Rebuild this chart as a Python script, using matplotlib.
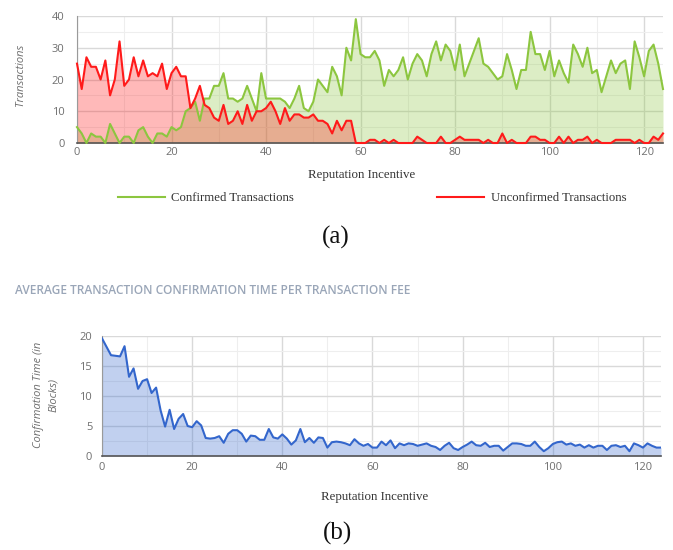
import numpy as np
import matplotlib
matplotlib.use("Agg")
import matplotlib.pyplot as plt

# === DATA ===
incentive = np.arange(125)

confirmed = [
    5, 3, 0, 3, 2, 2, 0, 6, 3, 0,
    2, 2, 0, 4, 5, 2, 0, 3, 3, 2,
    5, 4, 5, 10, 11, 13, 7, 14, 14, 18,
    18, 22, 14, 14, 13, 14, 18, 14, 10, 22,
    14, 14, 14, 14, 13, 11, 14, 18, 11, 10,
    13, 20, 18, 16, 24, 21, 15, 30, 26, 39,
    28, 27, 27, 29, 26, 18, 23, 21, 23, 27,
    20, 25, 28, 26, 21, 28, 32, 26, 31, 29,
    23, 31, 21, 25, 29, 33, 25, 24, 22, 20,
    21, 28, 23, 17, 23, 23, 35, 28, 28, 23,
    29, 21, 26, 22, 19, 31, 28, 24, 30, 22,
    23, 16, 21, 26, 22, 25, 26, 17, 32, 27,
    21, 29, 31, 25, 17,
]

unconfirmed = [
    25, 17, 27, 24, 24, 20, 26, 15, 20, 32,
    18, 20, 27, 21, 26, 21, 22, 21, 25, 17,
    22, 24, 21, 21, 11, 14, 18, 12, 11, 8,
    7, 12, 6, 7, 10, 6, 12, 7, 10, 10,
    11, 13, 10, 6, 11, 7, 9, 9, 8, 8,
    9, 7, 7, 6, 3, 7, 4, 7, 7, 0,
    0, 0, 1, 1, 0, 1, 0, 1, 0, 0,
    0, 0, 2, 1, 0, 0, 0, 2, 0, 0,
    1, 2, 1, 1, 1, 1, 0, 1, 0, 0,
    3, 0, 1, 0, 0, 0, 2, 2, 1, 1,
    0, 0, 2, 0, 2, 0, 1, 1, 2, 0,
    1, 0, 0, 0, 1, 1, 1, 1, 0, 1,
    0, 0, 2, 1, 3,
]

confirm_time = [
    19.6, 18.2, 16.8, 16.7, 16.6, 18.3, 13.2, 14.6, 11.2, 12.5,
    12.8, 10.5, 11.4, 7.6, 4.9, 7.7, 4.5, 6.2, 7.0, 5.0,
    4.8, 5.8, 5.1, 3.0, 2.9, 3.0, 3.3, 2.2, 3.7, 4.3,
    4.3, 3.7, 2.4, 3.4, 3.3, 2.7, 2.7, 4.5, 3.1, 2.9,
    3.6, 2.9, 1.9, 2.6, 4.5, 2.3, 3.0, 2.2, 3.1, 3.0,
    1.4, 2.3, 2.4, 2.3, 2.1, 1.8, 2.8, 2.1, 1.7, 2.0,
    1.4, 1.4, 2.4, 1.8, 2.6, 1.3, 2.1, 1.8, 2.1, 2.0,
    1.7, 1.9, 2.1, 1.7, 1.5, 1.0, 1.7, 2.2, 1.3, 1.0,
    1.5, 1.9, 2.4, 1.8, 1.7, 2.2, 1.5, 1.7, 1.7, 0.9,
    1.5, 2.1, 2.1, 2.0, 1.7, 1.7, 2.4, 1.5, 0.8, 1.3,
    2.0, 2.3, 2.4, 1.9, 2.1, 1.7, 1.9, 1.4, 1.8, 1.4,
    1.7, 1.7, 1.0, 1.7, 1.8, 1.5, 1.7, 0.8, 2.1, 1.8,
    1.4, 2.1, 1.7, 1.4, 1.4,
]

GREEN = "#8cc63f"
RED = "#ff1a1a"
BLUE = "#3366cc"
TICK_COLOR = "#6f6f6f"
SANS = ["Open Sans", "DejaVu Sans"]
SERIF = ["Liberation Serif", "DejaVu Serif"]

W, H = 673, 550
fig = plt.figure(figsize=(W / 100, H / 100), dpi=100)


def px_axes(left, top, right, bottom):
    return fig.add_axes([left / W, 1 - bottom / H, (right - left) / W, (bottom - top) / H])


def style_axes(ax, ymax, ystep, xpad, ypad):
    ax.set_xlim(0, 124)
    ax.set_ylim(0, ymax)
    ax.set_xticks(range(0, 121, 20))
    ax.set_xticks(range(10, 125, 20), minor=True)
    ax.set_yticks(np.arange(0, ymax + 0.1, ystep))
    ax.set_yticks(np.arange(ystep / 2, ymax, ystep), minor=True)
    ax.grid(which="major", color="#d9d9d9", linewidth=1.0)
    ax.grid(which="minor", color="#eeeeee", linewidth=0.8)
    ax.set_axisbelow(True)
    ax.tick_params(which="both", length=0, colors=TICK_COLOR, labelsize=8)
    ax.tick_params(axis="x", pad=xpad)
    ax.tick_params(axis="y", pad=ypad)
    for lab in ax.get_xticklabels() + ax.get_yticklabels():
        lab.set_family(SANS)
    for side in ("top", "right"):
        ax.spines[side].set_visible(False)
    ax.spines["left"].set_color("#9a9a9a")
    ax.spines["bottom"].set_color("#555555")
    ax.spines["bottom"].set_linewidth(1.2)


# --- (a) confirmed vs unconfirmed transactions ---
ax1 = px_axes(77, 16, 663, 143)
ax1.fill_between(incentive, confirmed, color=GREEN, alpha=0.3, linewidth=0)
ax1.fill_between(incentive, unconfirmed, color=RED, alpha=0.3, linewidth=0)
l_conf, = ax1.plot(incentive, confirmed, color=GREEN, linewidth=1.5,
                   label="Confirmed Transactions", zorder=3, clip_on=False)
l_unconf, = ax1.plot(incentive, unconfirmed, color=RED, linewidth=1.5,
                     label="Unconfirmed Transactions", zorder=3, clip_on=False)
style_axes(ax1, 40, 10, 3, 9)

fig.text(20 / W, 1 - 75 / H, "Transactions", rotation=90, ha="center", va="center",
         style="italic", color=TICK_COLOR, fontsize=8, family=SANS)
fig.text(362 / W, 1 - 175 / H, "Reputation Incentive", ha="center", va="center",
         color="#333333", fontsize=9.3, family=SERIF)

fig.legend(handles=[l_conf, l_unconf], loc="center", bbox_to_anchor=(372 / W, 1 - 198 / H),
           ncol=2, frameon=False, handlelength=3.7, handletextpad=0.5, columnspacing=11.2,
           prop={"family": SERIF, "size": 9.2}, labelcolor="#333333")

fig.text(336 / W, 1 - 237 / H, "(a)", ha="center", va="center", fontsize=18,
         color="#111111", family=SERIF)

# --- (b) average confirmation time ---
fig.text(15 / W, 1 - 290 / H, "AVERAGE TRANSACTION CONFIRMATION TIME PER TRANSACTION FEE",
         ha="left", va="center", color="#9aa6b8", fontsize=8.6, fontweight="semibold", family=SANS)

ax2 = px_axes(102, 336, 661, 456)
ax2.fill_between(incentive, confirm_time, color=BLUE, alpha=0.3, linewidth=0)
ax2.plot(incentive, confirm_time, color=BLUE, linewidth=1.5, zorder=3)
style_axes(ax2, 20, 5, 4, 7)

fig.text(46 / W, 1 - 395 / H, "Confirmation Time (in\nBlocks)", rotation=90, ha="center",
         va="center", multialignment="center", style="italic", color=TICK_COLOR,
         fontsize=8, family=SANS, linespacing=1.5)
fig.text(375 / W, 1 - 497 / H, "Reputation Incentive", ha="center", va="center",
         color="#333333", fontsize=9.3, family=SERIF)
fig.text(337 / W, 1 - 533 / H, "(b)", ha="center", va="center", fontsize=18,
         color="#111111", family=SERIF)

fig.savefig("out.png", dpi=100)
